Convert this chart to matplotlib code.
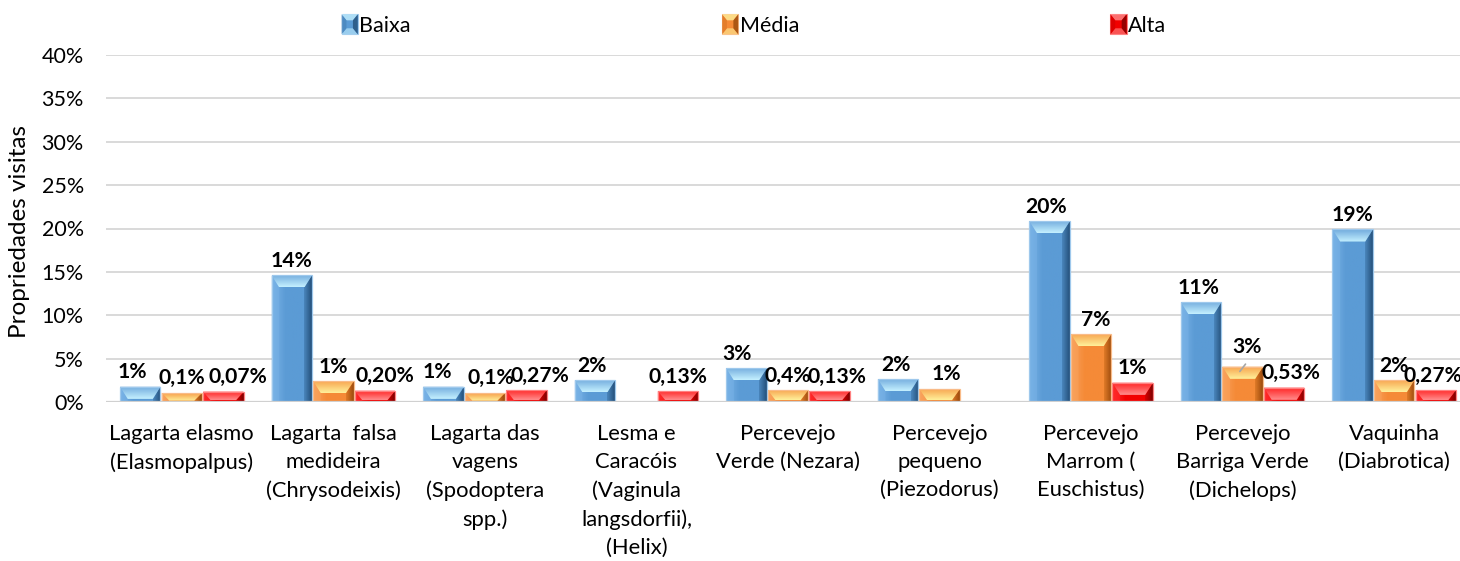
import numpy as np
import matplotlib
matplotlib.use('Agg')
import matplotlib.pyplot as plt
from matplotlib.patches import Polygon, Rectangle
from matplotlib.legend_handler import HandlerBase
from matplotlib.colors import LinearSegmentedColormap

# ---------------- data ----------------
categories = [
    "Lagarta elasmo\n(Elasmopalpus)",
    "Lagarta  falsa\nmedideira\n(Chrysodeixis)",
    "Lagarta das\nvagens\n(Spodoptera\nspp.)",
    "Lesma e\nCaracóis\n(Vaginula\nlangsdorfii),\n(Helix)",
    "Percevejo\nVerde (Nezara)",
    "Percevejo\npequeno\n(Piezodorus)",
    "Percevejo\nMarrom (\nEuschistus)",
    "Percevejo\nBarriga Verde\n(Dichelops)",
    "Vaquinha\n(Diabrotica)",
]
series_names = ["Baixa", "Média", "Alta"]
baixa = [1.76, 14.6, 1.76, 2.53, 3.88, 2.65, 20.85, 11.49, 19.9]
media = [1.08, 2.42, 1.07, 0.0, 1.38, 1.50, 7.83, 4.07, 2.53]
alta = [1.19, 1.30, 1.38, 1.27, 1.27, 0.0, 2.22, 1.65, 1.38]
baixa_labels = ["1%", "14%", "1%", "2%", "3%", "2%", "20%", "11%", "19%"]
media_labels = ["0,1%", "1%", "0,1%", "", "0,4%", "1%", "7%", "3%", "2%"]
alta_labels = ["0,07%", "0,20%", "0,27%", "0,13%", "0,13%", "", "1%", "0,53%", "0,27%"]
yticks = [0, 5, 10, 15, 20, 25, 30, 35, 40]
ytick_labels = ["0%", "5%", "10%", "15%", "20%", "25%", "30%", "35%", "40%"]

# label nudges (pixels) to mimic the hand placed data labels
baixa_dx = [-8, 0, -6, -3, -9, -2, -3, -3, 0]
media_dx = [0, 0, 6, 0, 0, 7, 5, 4, 0]
alta_dx = [15, 10, 14, 0, 7, 0, 0, 7, -3]
media_dy = [0, 0, 0, 0, 0, 0, 0, 5, 0]

# ---------------- style ----------------
plt.rcParams['font.family'] = ['Lato', 'DejaVu Sans']
FS = 15.5

styles = {
    "Baixa": dict(light="#78b2e6", base="#5b9bd5", shade="#4a86bd", dark="#24507a",
                  top_outer="#6fa9dc", top_inner="#c4f0ff", edge="#9ec8ec"),
    "Média": dict(light="#f9a25c", base="#f58a37", shade="#e07a28", dark="#9a4a0c",
                  top_outer="#f7a04a", top_inner="#fff09a", edge="#f9bb88"),
    "Alta": dict(light="#ff2a2a", base="#f20000", shade="#d80000", dark="#7e0000",
                 top_outer="#ff2020", top_inner="#ff8c8c", edge="#ff8080"),
}

fig = plt.figure(figsize=(14.6, 5.61), dpi=100)
ax = fig.add_axes([106 / 1460, 159 / 561, 1364 / 1460, 347 / 561])

x = np.arange(len(categories))
w = 0.267
step = 0.274
series = [baixa, media, alta]
labels = [baixa_labels, media_labels, alta_labels]
dxs = [baixa_dx, media_dx, alta_dx]
dys = [[0] * 9, media_dy, [0] * 9]


def grad(ax, xy, colors, direction, extent, z):
    cmap = LinearSegmentedColormap.from_list("g", colors)
    if direction == "h":
        arr = np.linspace(0, 1, 64).reshape(1, -1)
    else:
        arr = np.linspace(0, 1, 64).reshape(-1, 1)
    im = ax.imshow(arr, cmap=cmap, extent=extent, origin="lower", aspect="auto",
                   zorder=z, interpolation="bilinear")
    clip = Polygon(xy, closed=True, transform=ax.transData)
    im.set_clip_path(clip)
    return im


for si, (name, vals) in enumerate(zip(series_names, series)):
    st = styles[name]
    pos = x + (si - 1) * step
    bars = ax.bar(pos, vals, width=w, color=st["base"], edgecolor="none", zorder=2)
    for i, b in enumerate(bars):
        h = b.get_height()
        if h <= 0:
            continue
        x0 = b.get_x()
        x1 = x0 + b.get_width()
        bx = 0.19 * b.get_width()
        by = min(1.4, 0.85 * h)
        # main face
        grad(ax, [(x0, 0), (x1, 0), (x1, h), (x0, h)],
             [st["light"], st["base"], st["base"], st["base"]], "h", [x0, x1, 0, h], 3)
        # left bevel
        ax.add_patch(Polygon([(x0, h), (x0 + bx, h - by), (x0 + bx, 0), (x0, 0)],
                             closed=True, facecolor=st["light"], edgecolor="none",
                             alpha=0.5, zorder=4))
        # right bevel (dark)
        grad(ax, [(x1, h), (x1, 0), (x1 - bx, 0), (x1 - bx, h - by)],
             [st["shade"], st["dark"]], "h", [x1 - bx, x1, 0, h], 4)
        # top bevel
        grad(ax, [(x0, h), (x1, h), (x1 - bx, h - by), (x0 + bx, h - by)],
             [st["top_inner"], st["top_outer"]], "v", [x0, x1, h - by, h], 5)
        ax.add_patch(Rectangle((x0, -1), x1 - x0, h + 1, facecolor="none",
                               edgecolor=st["edge"], lw=0.9, zorder=6))
        txt = labels[si][i]
        if txt:
            xc = x0 + (x1 - x0) / 2
            ax.annotate(txt, (xc, h), xytext=(dxs[si][i], 8.5 + dys[si][i]),
                        textcoords="offset pixels", ha="center", va="baseline",
                        fontsize=FS - 0.3, fontweight="bold", color="black", zorder=8)

# leader line for the raised label
ax.annotate("", xy=(x[7] - 0.03, media[7] - 0.8), xytext=(x[7] + 0.03, media[7] + 0.55),
            arrowprops=dict(arrowstyle="-", color="#a6a6a6", lw=1.2), zorder=9)

ax.set_xlim(-0.5, len(categories) - 0.5)
ax.set_ylim(0, 40)
ax.set_yticks(yticks)
ax.set_yticklabels(ytick_labels, fontsize=FS)
ax.set_xticks(x)
ax.set_xticklabels(categories, fontsize=FS + 0.3, linespacing=1.5, va="top")
ax.tick_params(axis="both", length=0)
ax.tick_params(axis="y", pad=16)
ax.tick_params(axis="x", pad=16)
ax.grid(axis="y", color="#d9d9d9", lw=1.4, zorder=0)
ax.set_axisbelow(True)
for s in ax.spines.values():
    s.set_visible(False)
ax.axhline(0, color="#d0d0d0", lw=1.6, zorder=7)
ax.set_ylabel("Propriedades visitas", fontsize=17.5)
ax.yaxis.set_label_coords(-0.056, 0.49)


# legend with bevelled markers
class BevelHandler(HandlerBase):
    def __init__(self, st):
        super().__init__()
        self.st = st

    def create_artists(self, legend, orig_handle, xdescent, ydescent, width, height,
                       fontsize, trans):
        st = self.st
        x0, y0 = -xdescent, -ydescent
        x1, y1 = x0 + width, y0 + height
        bx, by = width * 0.3, height * 0.3
        arts = [
            Polygon([(x0, y0), (x1, y0), (x1, y1), (x0, y1)], closed=True,
                    facecolor=st["base"], edgecolor=st["edge"], lw=0.8),
            Polygon([(x0, y1), (x1, y1), (x1 - bx, y1 - by), (x0 + bx, y1 - by)],
                    closed=True, facecolor=st["top_inner"], edgecolor="none", alpha=0.8),
            Polygon([(x0, y0), (x1, y0), (x1 - bx, y0 + by), (x0 + bx, y0 + by)],
                    closed=True, facecolor=st["top_inner"], edgecolor="none", alpha=0.6),
            Polygon([(x1, y1), (x1, y0), (x1 - bx, y0 + by), (x1 - bx, y1 - by)],
                    closed=True, facecolor=st["dark"], edgecolor="none", alpha=0.8),
            Polygon([(x0, y1), (x0, y0), (x0 + bx, y0 + by), (x0 + bx, y1 - by)],
                    closed=True, facecolor=st["shade"], edgecolor="none", alpha=0.8),
        ]
        for a in arts:
            a.set_transform(trans)
        return arts


handles = [Rectangle((0, 0), 1, 1) for _ in series_names]
hmap = {h: BevelHandler(styles[n]) for h, n in zip(handles, series_names)}
fig.legend(handles, series_names, handler_map=hmap, ncol=3, loc="center",
           bbox_to_anchor=(754 / 1460, 1 - 25 / 561), frameon=False, fontsize=FS,
           handlelength=0.75, handleheight=1.05, handletextpad=0.08, columnspacing=14.45,
           borderpad=0, borderaxespad=0)

fig.savefig("out.png", dpi=100)
